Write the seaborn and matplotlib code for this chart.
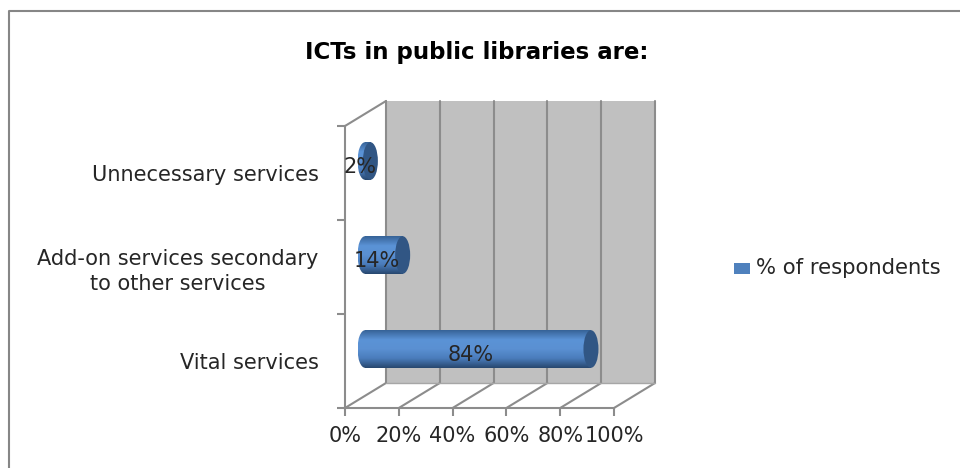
#!/usr/bin/env python

import numpy as np
import pandas as pd
import matplotlib
matplotlib.use('Agg')
import matplotlib.pyplot as plt
from matplotlib.lines import Line2D
from matplotlib.patches import Ellipse, Rectangle
from matplotlib.colors import LinearSegmentedColormap
import seaborn as sns

categories = ['Unnecessary services', 'Add-on services secondary\nto other services', 'Vital services']
values = [2, 14, 84]
value_labels = ['2%', '14%', '84%']
x_ticks = [0, 20, 40, 60, 80, 100]
x_tick_labels = ['0%', '20%', '40%', '60%', '80%', '100%']
series_name = '% of respondents'
title = 'ICTs in public libraries are:'

W, H = 960, 468
# front plane of the fake 3d box, in pixels
LEFT, RIGHT, TOP, BOTTOM = 345, 614, 126, 408
DEPTH_X, DEPTH_Y = 41, 25
GRID = '#8c8c8c'
TEXT = '#262626'

sns.set_theme(style='white')
plt.rcParams['font.family'] = ['DejaVu Sans']

fig = plt.figure(figsize=(W / 100, H / 100), dpi=100)
ax = fig.add_axes([LEFT / W, 1 - BOTTOM / H, (RIGHT - LEFT) / W, (BOTTOM - TOP) / H])

df = pd.DataFrame({'category': categories, 'value': values})
sns.barplot(data=df, x='value', y='category', color='#4f81bd', width=0.4, saturation=1, ax=ax, zorder=5)
ax.set_xlim(0, 100)
ax.set_ylim(2.5, -0.5)
ax.set_xlabel('')
ax.set_ylabel('')
ax.patch.set_alpha(0)
sns.despine(ax=ax, top=True, right=True)
for s in ['left', 'bottom']:
	ax.spines[s].set_color(GRID)
	ax.spines[s].set_linewidth(1.5)

# pixel helpers for the depth offset
px = 100 / (RIGHT - LEFT)
py = 3 / (BOTTOM - TOP)
dx = DEPTH_X * px
dy = DEPTH_Y * py
y0, y1 = 2.5, -0.5

# back wall and floor
ax.add_patch(Rectangle((dx, y1 - dy), 100, 3, facecolor='#c0c0c0', edgecolor='none', zorder=0, clip_on=False))
for t in x_ticks:
	ax.plot([t + dx, t + dx], [y0 - dy, y1 - dy], color=GRID, lw=1.5, zorder=1, clip_on=False)
	ax.plot([t, t + dx], [y0, y0 - dy], color=GRID, lw=1.5, zorder=1, clip_on=False)
ax.plot([0, dx], [y1, y1 - dy], color=GRID, lw=1.5, zorder=1, clip_on=False)
ax.plot([dx, 100 + dx], [y0 - dy, y0 - dy], color='#a6a6a6', lw=1, zorder=1, clip_on=False)

# ticks
ax.set_xticks(x_ticks)
ax.set_xticklabels(x_tick_labels, fontsize=15, color=TEXT)
ax.set_yticks([-0.5, 0.5, 1.5, 2.5], minor=True)
ax.set_yticks([0, 1, 2])
ax.set_yticklabels(categories, fontsize=15, color=TEXT, linespacing=1.3, ha='right', ma='center')
ax.tick_params(axis='x', length=6, width=1.5, color=GRID, bottom=True, pad=7)
ax.tick_params(axis='y', which='major', length=0, pad=19)
ax.tick_params(axis='y', which='minor', length=6, width=1.5, color=GRID, left=True)

# shaded cylinders, built on the bars seaborn drew
shade = LinearSegmentedColormap.from_list('cyl', ['#376398', '#5b93d6', '#5a90d2', '#4a7cbb', '#284870'])
grad = np.linspace(0, 1, 64).reshape(-1, 1)
cap_w = 15 * px
for patch, label in zip(ax.patches[:len(values)], value_labels):
	v = patch.get_width()
	h = patch.get_height()
	yc = patch.get_y() + h / 2 - 12 * py
	x0 = 20 * px
	patch.set_xy((x0, yc - h / 2))
	patch.set_clip_on(False)
	patch.set_edgecolor('none')
	left_cap = Ellipse((x0, yc), cap_w, h, facecolor='none', edgecolor='none', zorder=5)
	ax.add_patch(left_cap)
	img = ax.imshow(grad, cmap=shade, extent=(x0 - cap_w / 2, x0, yc + h / 2, yc - h / 2), aspect='auto', zorder=5.5)
	img.set_clip_path(left_cap)
	ax.imshow(grad, cmap=shade, extent=(x0, x0 + v, yc + h / 2, yc - h / 2), aspect='auto', zorder=5.5, clip_on=False)
	ax.add_patch(Ellipse((x0 + v, yc), cap_w, h, facecolor='#315684', edgecolor='none', zorder=6, clip_on=False))
	ax.text(x0 + v / 2 - 7.5 * px, yc + 6 * py, label, ha='center', va='center', fontsize=15, color=TEXT, zorder=7)
ax.set_xlim(0, 100)
ax.set_ylim(2.5, -0.5)

# title, legend and outer frame (only left and top edges are in the picture)
fig.text(477 / W, 1 - 52 / H, title, ha='center', va='center', fontsize=16.5, fontweight='bold', color='black')
fig.patches.append(Rectangle((734 / W, 1 - 274 / H), 16 / W, 11 / H, transform=fig.transFigure, facecolor='#4f81bd', edgecolor='none'))
fig.text(756 / W, 1 - 268 / H, series_name, ha='left', va='center', fontsize=15.2, color=TEXT)
fig.add_artist(Line2D([8.5 / W, 8.5 / W, 1], [0, 1 - 11 / H, 1 - 11 / H], transform=fig.transFigure, color='#868686', lw=1.5))

fig.savefig('out.png', dpi=100)
